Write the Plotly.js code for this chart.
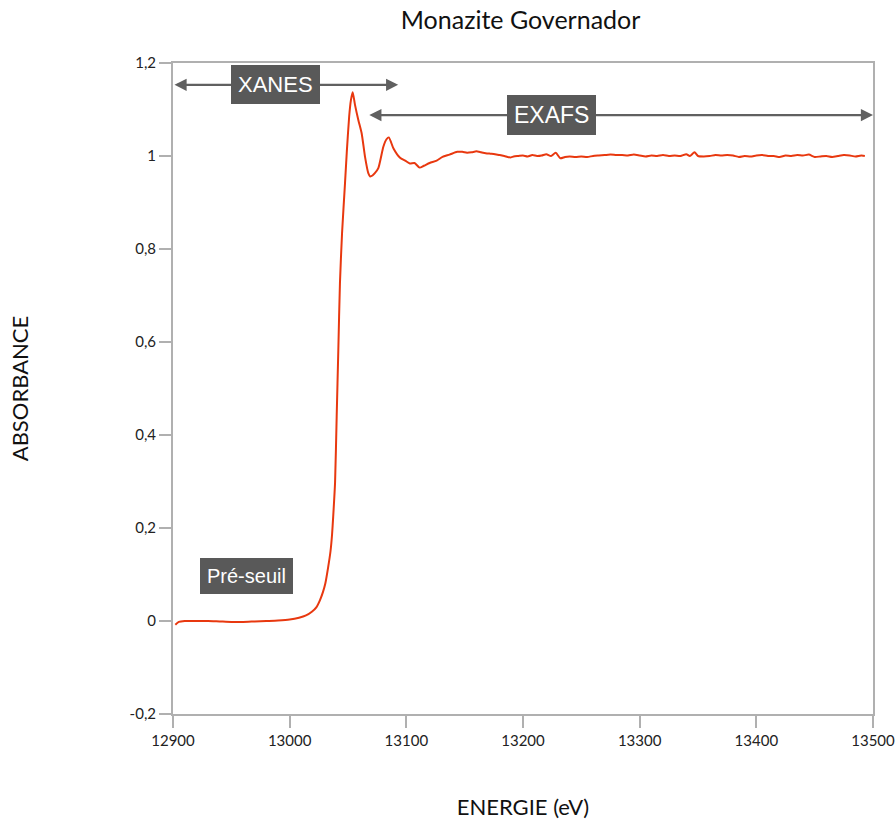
<!DOCTYPE html>
<html>
<head>
<meta charset="utf-8">
<script src="https://cdn.plot.ly/plotly-3.0.1.min.js"></script>
<style>html,body{margin:0;padding:0;background:#fff;}#chart{width:896px;height:825px;}</style>
</head>
<body>
<div id="chart"></div>
<script>
const energy = [12902,12905,12910,12920,12930,12940,12950,12960,12970,12980,12990,13000,13008,13014,13019,13023,13026,13028.5,13030.5,13033,13035,13036.3,13037.3,13038.9,13040.3,13041.7,13043.1,13044.9,13047.4,13049,13051,13052.5,13054,13056,13058.9,13061.7,13064.6,13067.4,13069,13071,13073,13076,13080.3,13083,13085,13089,13094.6,13099,13103,13107,13111.4,13115,13120,13126,13131,13137,13143.6,13148,13152,13156,13160,13164,13168,13172,13176,13180,13184,13189,13192,13196,13200,13204,13208,13212,13216,13220,13224,13228,13232,13236,13240,13245,13250,13255,13260,13265,13270,13275,13280,13285,13290,13295,13300,13305,13310,13315,13320,13325,13330,13335,13340,13343,13347,13350,13355,13360,13365,13370,13375,13380,13385,13390,13395,13400,13405,13410,13415,13420,13425,13430,13435,13440,13445,13450,13455,13460,13465,13470,13475,13480,13485,13490,13493];
const absorbance = [-0.008,-0.002,0.000,0.000,0.000,-0.001,-0.002,-0.002,-0.001,0.000,0.001,0.003,0.007,0.012,0.020,0.030,0.045,0.062,0.080,0.116,0.150,0.185,0.224,0.297,0.440,0.583,0.727,0.834,0.940,1.010,1.085,1.120,1.137,1.110,1.077,1.049,0.998,0.963,0.956,0.958,0.963,0.974,1.020,1.036,1.040,1.016,0.996,0.990,0.984,0.985,0.975,0.979,0.985,0.990,0.998,1.003,1.009,1.009,1.007,1.008,1.010,1.008,1.006,1.005,1.004,1.002,1.000,0.997,0.999,1.000,1.001,0.999,1.002,1.000,1.001,1.004,1.000,1.007,0.995,0.998,0.999,0.998,0.999,0.998,1.000,1.001,1.002,1.003,1.002,1.002,1.001,1.003,1.001,0.999,1.001,1.000,1.002,1.000,1.001,1.000,1.004,1.000,1.008,1.000,0.999,1.000,1.002,1.001,1.002,1.001,0.998,1.000,0.999,1.001,1.002,1.000,1.000,0.998,1.001,1.000,1.002,1.001,1.003,0.998,0.999,1.000,0.998,1.000,1.002,1.001,0.999,1.001,1.000];

const xTickVals = [12900,13000,13100,13200,13300,13400,13500];
const xTickText = ['12900','13000','13100','13200','13300','13400','13500'];
const yTickVals = [-0.2,0,0.2,0.4,0.6,0.8,1,1.2];
const yTickText = ['-0,2','0','0,2','0,4','0,6','0,8','1','1,2'];

const regionLabels = ['XANES','EXAFS','Pré-seuil'];
const regionLabelX = [12988,13224,12963];
const regionLabelY = [1.153,1.088,0.097];
const arrowStartX = [12900,13067];
const arrowEndX = [13093,13500];
const arrowY = [1.153,1.088];

const trace = {
  x: energy, y: absorbance, type: 'scatter', mode: 'lines',
  line: {color: '#e8380f', width: 2, shape: 'spline', smoothing: 0.6}, hoverinfo: 'skip'
};

const annotations = [];
for (let i = 0; i < arrowStartX.length; i++) {
  annotations.push({
    x: arrowEndX[i], y: arrowY[i], ax: arrowStartX[i], ay: arrowY[i],
    xref: 'x', yref: 'y', axref: 'x', ayref: 'y',
    text: '', showarrow: true, arrowhead: 2, arrowside: 'end+start',
    arrowsize: 1.1, arrowwidth: 2.2, arrowcolor: '#606060',
    standoff: 0, startstandoff: 0
  });
}
const labelSizes = [22, 23, 20];
for (let i = 0; i < regionLabels.length; i++) {
  annotations.push({
    x: regionLabelX[i], y: regionLabelY[i], xref: 'x', yref: 'y',
    text: regionLabels[i], showarrow: false,
    font: {family: 'Liberation Sans, Arial, sans-serif', size: labelSizes[i], color: '#ffffff'},
    bgcolor: '#595959', borderpad: 6, bordercolor: '#595959', borderwidth: 1
  });
}

const axisCommon = {
  showgrid: false, zeroline: false, showline: true, linecolor: '#b0b0b0', linewidth: 2,
  mirror: true, ticks: 'outside', ticklen: 12, tickwidth: 2, tickcolor: '#b0b0b0',
  tickfont: {family: 'Lato, sans-serif', size: 15, color: '#222'}
};

const layout = {
  width: 896, height: 825,
  margin: {l: 173, r: 23, t: 63, b: 111},
  paper_bgcolor: '#ffffff', plot_bgcolor: '#ffffff',
  showlegend: false,
  title: {text: 'Monazite Governador', x: 0.581, xanchor: 'center', y: 0.975, yanchor: 'middle',
    font: {family: 'Lato, sans-serif', size: 25, color: '#111'}},
  xaxis: Object.assign({}, axisCommon, {
    range: [12900, 13500], tickvals: xTickVals, ticktext: xTickText,
    title: {text: 'ENERGIE (eV)', standoff: 52, font: {family: 'Lato, sans-serif', size: 22, color: '#111'}}
  }),
  yaxis: Object.assign({}, axisCommon, {
    range: [-0.2, 1.2], tickvals: yTickVals, ticktext: yTickText,
    title: {text: 'ABSORBANCE', standoff: 95, font: {family: 'Lato, sans-serif', size: 22, color: '#111'}}
  }),
  annotations: annotations
};

Plotly.newPlot('chart', [trace], layout, {displayModeBar: false, staticPlot: true});
</script>
</body>
</html>
